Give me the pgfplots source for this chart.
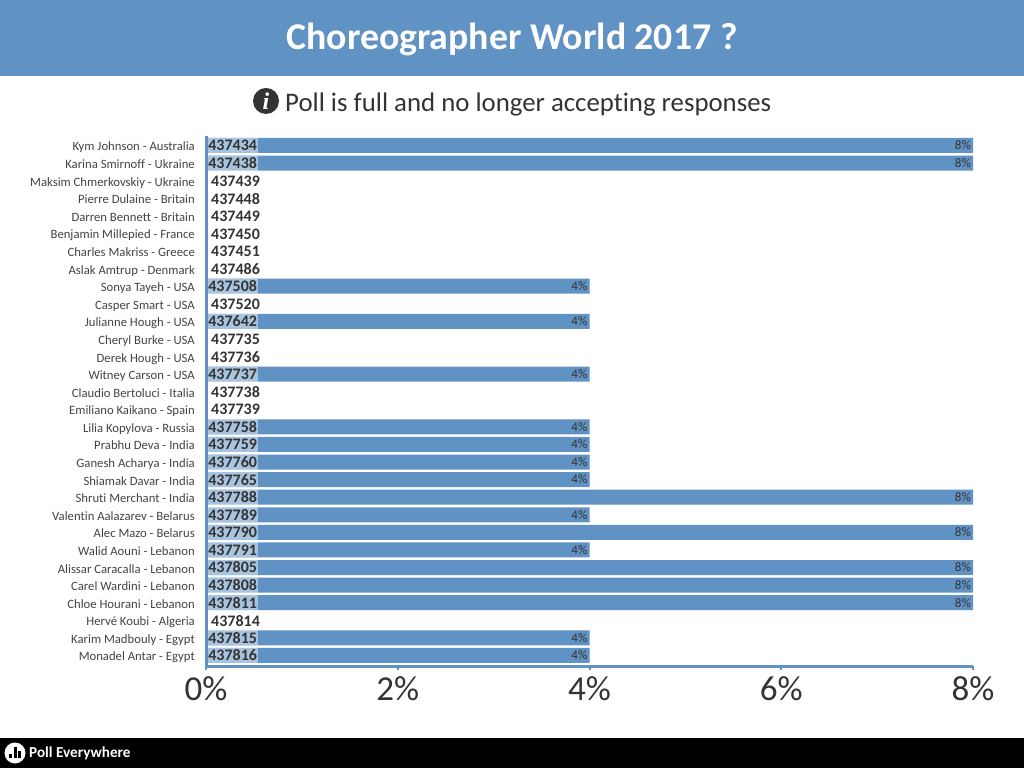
\documentclass[border=0pt]{standalone}
\usepackage{fontspec}
\setmainfont[Ligatures={NoCommon}]{Carlito}
\newfontfamily\serifi{Liberation Serif}
\usepackage{pgfplots}
\usepackage{pgfplotstable}
\pgfplotsset{compat=1.18}
\definecolor{pevblue}{HTML}{6092C4}
\definecolor{pevtext}{HTML}{333333}
\definecolor{pevlabel}{HTML}{444444}
\pgfplotstableread{
row v lab id
0 8 8\% 437434
1 8 8\% 437438
8 4 4\% 437508
10 4 4\% 437642
13 4 4\% 437737
16 4 4\% 437758
17 4 4\% 437759
18 4 4\% 437760
19 4 4\% 437765
20 8 8\% 437788
21 4 4\% 437789
22 8 8\% 437790
23 4 4\% 437791
24 8 8\% 437805
25 8 8\% 437808
26 8 8\% 437811
28 4 4\% 437815
29 4 4\% 437816
}\barred
\pgfplotstableread{
row v id
2 0 437439
3 0 437448
4 0 437449
5 0 437450
6 0 437451
7 0 437486
9 0 437520
11 0 437735
12 0 437736
14 0 437738
15 0 437739
27 0 437814
}\zeros
\begin{document}
\begin{tikzpicture}[x=1pt,y=1pt]
\useasboundingbox (0,0) rectangle (1024,768);
\fill[white] (0,0) rectangle (1024,768);
\fill[pevblue] (0,692) rectangle (1024,768);
\fill[black] (0,0) rectangle (1024,30);
\node[text=white,font=\fontsize{37.8}{40}\selectfont\bfseries] at (512,728.5) {Choreographer World 2017 ?};
\node[text=pevtext,font=\fontsize{26.8}{30}\selectfont,anchor=west,inner sep=0pt] at (285,663.5) {Poll is full and no longer accepting responses};
\fill[pevtext] (266,667) circle (13);
\node[text=white,font=\fontsize{24}{24}\selectfont\serifi\bfseries\itshape] at (266,667) {i};
\fill[white] (15,15) circle (10.5);
\fill[black] (9,10) rectangle (12,14);
\fill[black] (13.5,10) rectangle (16.5,21);
\fill[black] (18,10) rectangle (21,17);
\node[text=white,font=\fontsize{15.2}{18}\selectfont\bfseries,anchor=west,inner sep=0pt] at (29,15) {Poll Everywhere};
\begin{axis}[
  at={(206pt,102pt)}, anchor=south west,
  scale only axis, width=767pt, height=530pt,
  xmin=0, xmax=8, ymin=-0.54, ymax=29.6, y dir=reverse,
  clip=false,
  axis lines*=left,
  axis line style={draw=pevblue,line width=3pt,-},
  xtick={0,2,4,6,8},
  xticklabels={0\%,2\%,4\%,6\%,8\%},
  ytick={0,...,29},
  yticklabels={Kym Johnson - Australia,Karina Smirnoff - Ukraine,Maksim Chmerkovskiy - Ukraine,Pierre Dulaine - Britain,Darren Bennett - Britain,Benjamin Millepied - France,Charles Makriss - Greece,Aslak Amtrup - Denmark,Sonya Tayeh - USA,Casper Smart - USA,Julianne Hough - USA,Cheryl Burke - USA,Derek Hough - USA,Witney Carson - USA,Claudio Bertoluci - Italia,Emiliano Kaikano - Spain,Lilia Kopylova - Russia,Prabhu Deva - India,Ganesh Acharya - India,Shiamak Davar - India,Shruti Merchant - India,Valentin Aalazarev - Belarus,Alec Mazo - Belarus,Walid Aouni - Lebanon,Alissar Caracalla - Lebanon,Carel Wardini - Lebanon,Chloe Hourani - Lebanon,Hervé Koubi - Algeria,Karim Madbouly - Egypt,Monadel Antar - Egypt},
  tick align=outside,
  major tick length=4pt,
  xtick style={draw=pevblue,line width=2pt},
  ytick style={draw=none},
  xticklabel style={font=\fontsize{35}{36}\selectfont,text=pevtext,inner sep=0pt,yshift=-6pt},
  yticklabel style={font=\fontsize{12.7}{14}\selectfont,text=pevlabel,inner sep=0pt,xshift=-7pt,yshift=-2.5pt,text height=9pt,text depth=3pt},
  /pgf/number format/assume math mode=true,
]
\addplot[xbar,bar width=15pt,draw=none,fill=pevblue,
  point meta=explicit symbolic,
  nodes near coords,
  nodes near coords align={anchor=east},
  every node near coord/.append style={font=\fontsize{13}{14}\selectfont,text=pevtext,inner sep=2pt}]
  table[x=v,y=row,meta=lab]{\barred};
\addplot[only marks,mark=none,
  point meta=explicit symbolic,
  nodes near coords,
  nodes near coords align={anchor=west},
  every node near coord/.append style={font=\fontsize{16}{16}\selectfont\bfseries,text=pevtext,
    fill=white,fill opacity=0.45,text opacity=1,inner sep=0pt,minimum height=15pt,minimum width=50pt,xshift=1.5pt}]
  table[x expr=0,y=row,meta=id]{\barred};
\addplot[only marks,mark=none,
  point meta=explicit symbolic,
  nodes near coords,
  nodes near coords align={anchor=west},
  every node near coord/.append style={font=\fontsize{16}{16}\selectfont\bfseries,text=pevtext,inner sep=0pt,xshift=5pt,yshift=-0.5pt}]
  table[x=v,y=row,meta=id]{\zeros};
\end{axis}
\end{tikzpicture}
\end{document}
